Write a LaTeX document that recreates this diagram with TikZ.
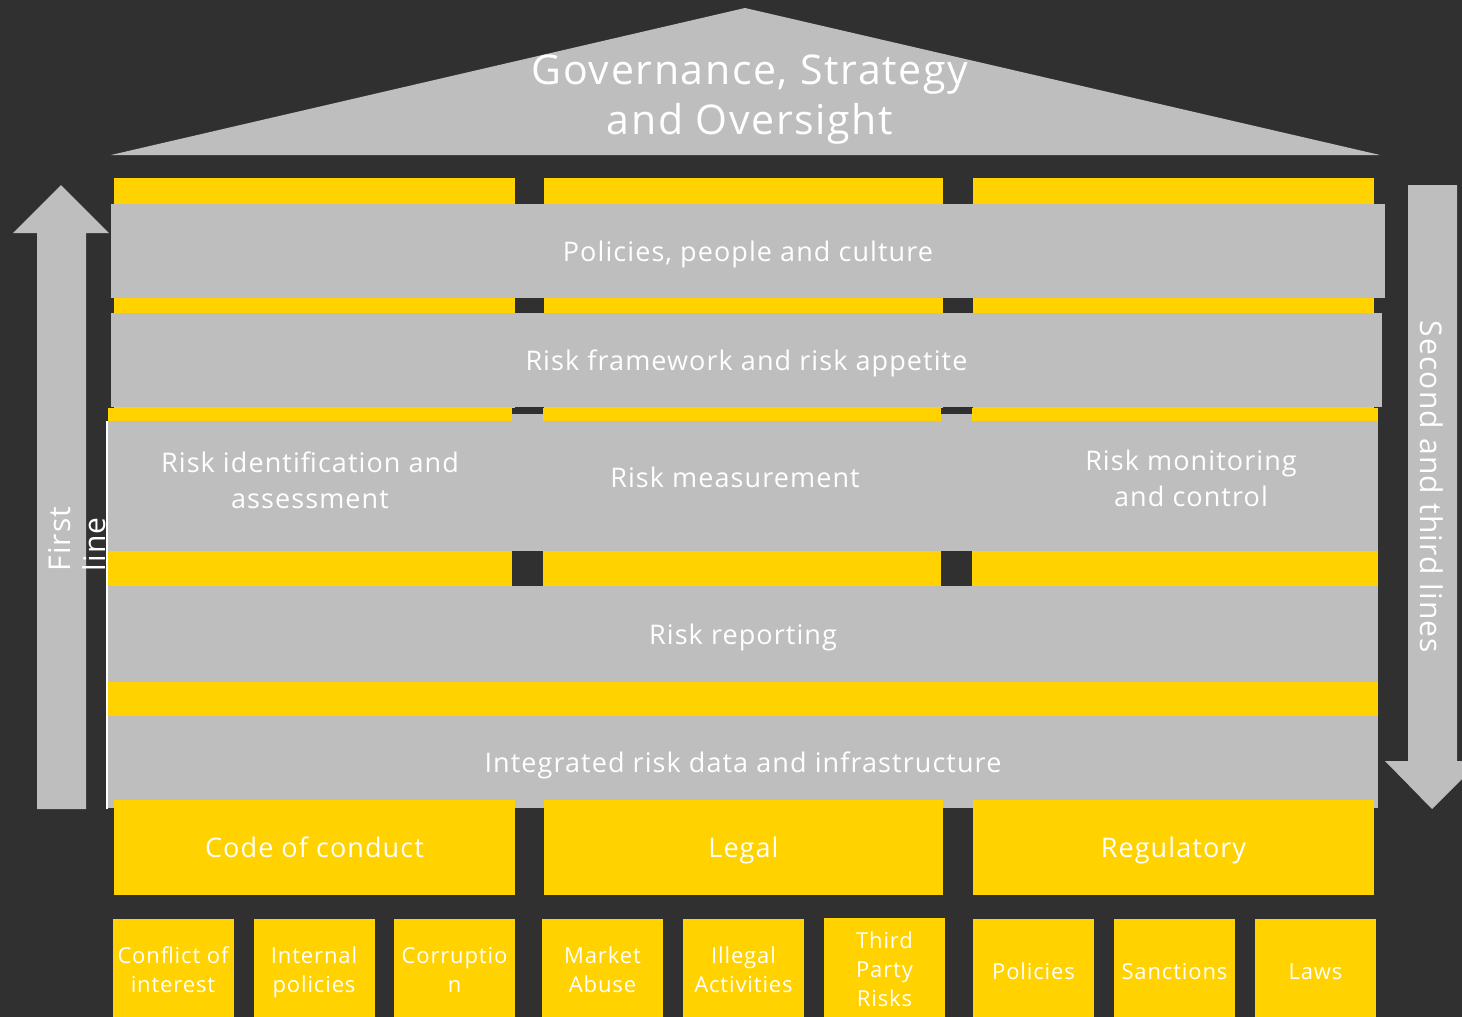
\documentclass[tikz,border=0pt]{standalone}
\usepackage{fontspec}
\setmainfont{Open Sans}[LetterSpace=4]

\definecolor{bgdark}{HTML}{303030}
\definecolor{slabgray}{HTML}{BEBEBE}
\definecolor{pillaryellow}{HTML}{FFD200}

\tikzset{
  band/.style={fill=slabgray, inner sep=0pt, text=white, text height=26pt, text depth=6pt,
    font=\fontsize{27}{36}\selectfont},
  bandtext/.style={text=white, align=center, inner sep=0pt, font=\fontsize{27}{36}\selectfont},
  codebox/.style={fill=pillaryellow, text=white, inner sep=0pt, minimum height=95pt,
    text height=26pt, text depth=6pt, font=\fontsize{27}{36}\selectfont},
  riskbox/.style={fill=pillaryellow, text=white, inner sep=0pt, align=center,
    minimum width=121pt, minimum height=110pt, font=\fontsize{22}{29}\selectfont,
    execute at begin node=\strut, execute at end node=\strut},
  linearrow/.style={fill=slabgray},
  linelabel/.style={text=white, inner sep=0pt, font=\fontsize{30}{35}\selectfont}
}

\begin{document}
\begin{tikzpicture}[x=1pt, y=-1pt]

  % Background
  \fill[bgdark] (0,0) rectangle (1462,1017);
  \useasboundingbox (0,0) rectangle (1462,1017);

  % Roof
  \fill[slabgray] (111,155) -- (745,8) -- (1380,155) -- cycle;
  \node[text=white, align=center, font=\fontsize{41}{50}\selectfont] (gov) at (750,100)
    {Governance, Strategy\\and Oversight};

  % Pillars (upper and lower part)
  \fill[pillaryellow] (114,178) rectangle (515,408);
  \fill[pillaryellow] (544,178) rectangle (943,408);
  \fill[pillaryellow] (973,178) rectangle (1374,408);
  \fill[pillaryellow] (108,408) rectangle (512,800);
  \fill[pillaryellow] (543,408) rectangle (941,800);
  \fill[pillaryellow] (972,408) rectangle (1378,800);
  \fill[pillaryellow] (108,682) rectangle (1378,716);

  % Bands
  \node[band, minimum width=1274pt, minimum height=94pt] (policies) at (748,251)
    {Policies, people and culture};
  \node[band, minimum width=1271pt, minimum height=94pt] (framework) at (746.5,360)
    {Risk framework and risk appetite};

  \fill[slabgray] (108,421) rectangle (1378,551);
  \fill[slabgray] (512,414) rectangle (543,421);
  \fill[slabgray] (941,414) rectangle (972,421);
  \node[bandtext] (ident) at (310,480) {Risk identification and\\assessment};
  \node[bandtext] (measure) at (735,477) {Risk measurement};
  \node[bandtext] (monitor) at (1191,478) {Risk monitoring\\and control};

  \node[band, minimum width=1270pt, minimum height=96pt] (reporting) at (743,634)
    {Risk reporting};
  \node[band, minimum width=1270pt, minimum height=92pt] (infra) at (743,762)
    {Integrated risk data and infrastructure};

  \draw[white, line width=2.5pt] (107,421) -- (107,809);

  % Risk areas
  \node[codebox, minimum width=401pt] (conduct) at (314.5,847.5) {Code of conduct};
  \node[codebox, minimum width=399pt] (legal) at (743.5,847.5) {Legal};
  \node[codebox, minimum width=401pt] (regulatory) at (1173.5,847.5) {Regulatory};

  \node[riskbox] (conflict) at (173,974) {Conflict of\\interest};
  \node[riskbox] (internal) at (314,974) {Internal\\policies};
  \node[riskbox] (corruption) at (454.5,974) {Corruptio\\n};
  \node[riskbox] (market) at (602.5,974) {Market\\Abuse};
  \node[riskbox] (illegal) at (743.5,974) {Illegal\\Activities};
  \node[riskbox] (thirdparty) at (884.5,973) {Third\\Party\\Risks};
  \node[riskbox] (rules) at (1033.5,974) {Policies};
  \node[riskbox] (sanctions) at (1174.5,974) {Sanctions};
  \node[riskbox] (laws) at (1315.5,974) {Laws};

  % Lines of defence
  \fill[linearrow] (37,809) -- (37,233) -- (13,233) -- (61,185) -- (109,233)
    -- (86,233) -- (86,809) -- cycle;
  \fill[linearrow] (1408,185) -- (1457,185) -- (1457,761) -- (1480,761)
    -- (1432,809) -- (1385,761) -- (1408,761) -- cycle;

  \node[linelabel, rotate=90, align=left] (first) at (77,539) {First\\line};
  \node[linelabel, rotate=-90] (second) at (1432,487) {Second and third lines};

\end{tikzpicture}
\end{document}
